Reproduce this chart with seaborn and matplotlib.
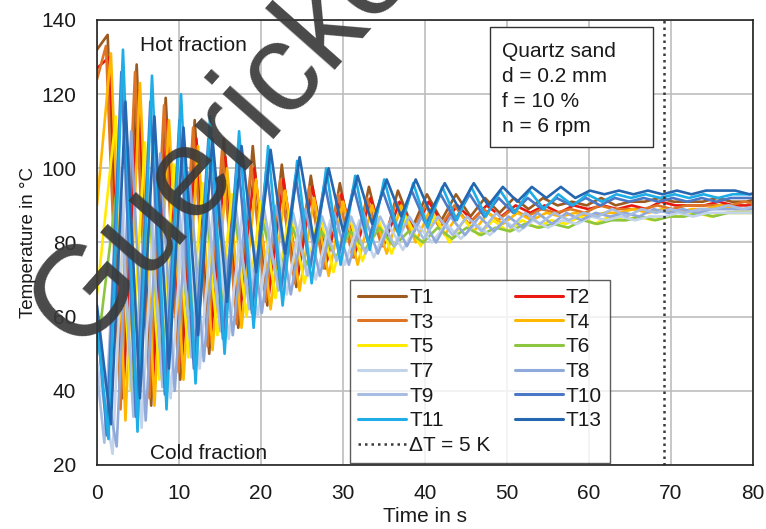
import matplotlib
matplotlib.use("Agg")
import matplotlib.pyplot as plt
import pandas as pd
import seaborn as sns
from matplotlib.lines import Line2D
from matplotlib.patches import Rectangle

# Thermocouple signals in the rotating drum: value at t = 0, time of the
# first turning point, then the successive peak / trough temperatures.
HALF_PERIOD = 1.77  # s between a peak and the following trough

sensors = ["T1", "T2", "T3", "T4", "T5", "T6", "T7", "T8", "T9", "T10", "T11", "T13"]

colors = {
    "T1": "#9C5A1E", "T2": "#E8190E", "T3": "#DD7524", "T4": "#FFB700",
    "T5": "#FFEA00", "T6": "#8CC640", "T7": "#C3D3EA", "T8": "#8FAADA",
    "T9": "#A7BDE2", "T10": "#4B78C6", "T11": "#1EADE6", "T13": "#2466B0",
}

start_temp = {"T1": 132, "T2": 127, "T3": 124, "T4": 90, "T5": 66, "T6": 50,
              "T7": 48, "T8": 55, "T9": 45, "T10": 60, "T11": 58, "T13": 63}

first_turn = {"T1": 1.3, "T2": 1.5, "T3": 1.1, "T4": 1.7, "T5": 2.3, "T6": 2.6,
              "T7": 1.9, "T8": 2.4, "T9": 0.9, "T10": 1.2, "T11": 1.4, "T13": 1.7}

T1 = [136, 38, 128, 36, 119, 43, 113, 50, 108, 57,
      106, 63, 101, 68, 98, 73, 96, 76, 95, 79,
      94, 84, 93, 86, 93, 87, 92, 88, 92, 89,
      92, 90, 91, 90, 92, 90, 91, 91, 92, 91,
      91, 91, 92, 91, 91, 92]
T2 = [130, 42, 121, 41, 113, 47, 108, 54, 103, 60,
      100, 66, 97, 71, 95, 75, 93, 78, 92, 80,
      91, 83, 91, 85, 90, 86, 90, 87, 90, 88,
      90, 88, 90, 89, 90, 89, 90, 89, 91, 90,
      90, 90, 91, 90, 90, 91]
T3 = [133, 35, 126, 38, 117, 45, 111, 52, 105, 58,
      101, 64, 97, 69, 95, 73, 93, 76, 92, 79,
      91, 82, 90, 84, 90, 85, 89, 86, 89, 87,
      89, 88, 89, 88, 90, 89, 89, 89, 90, 89,
      90, 90, 90, 90, 91, 90]
T4 = [131, 32, 123, 36, 113, 43, 106, 51, 100, 57,
      97, 62, 94, 67, 92, 71, 91, 74, 90, 77,
      90, 80, 89, 82, 88, 83, 88, 85, 88, 86,
      88, 87, 88, 87, 88, 88, 89, 88, 89, 88,
      89, 89, 90, 89, 89, 90]
T5 = [114, 40, 107, 43, 101, 49, 96, 55, 93, 60,
      91, 65, 89, 69, 88, 72, 88, 75, 87, 77,
      87, 79, 87, 80, 86, 82, 86, 83, 86, 84,
      86, 85, 87, 85, 87, 86, 87, 86, 87, 87,
      88, 87, 88, 88, 88, 88]
T6 = [98, 38, 97, 45, 94, 52, 90, 59, 87, 65,
      85, 70, 84, 74, 83, 76, 83, 78, 84, 79,
      83, 80, 84, 81, 84, 82, 84, 83, 85, 84,
      85, 84, 86, 85, 86, 86, 87, 86, 87, 87,
      88, 87, 88, 88, 88, 88]
T7 = [23, 106, 30, 100, 38, 96, 46, 92, 54, 90,
      60, 88, 66, 87, 70, 86, 74, 86, 76, 85,
      78, 85, 80, 85, 81, 85, 82, 86, 83, 86,
      84, 86, 85, 87, 86, 87, 86, 87, 87, 88,
      87, 88, 88, 88, 88, 89]
T8 = [25, 110, 32, 104, 40, 99, 48, 95, 55, 92,
      61, 90, 66, 89, 71, 88, 74, 88, 77, 87,
      79, 87, 80, 87, 82, 87, 83, 87, 84, 88,
      85, 88, 86, 88, 87, 88, 87, 89, 88, 89,
      88, 89, 89, 89, 89, 90]
T9 = [26, 103, 33, 100, 41, 96, 49, 93, 56, 91,
      62, 89, 67, 88, 71, 87, 75, 87, 77, 87,
      79, 87, 81, 87, 82, 87, 83, 88, 84, 88,
      85, 88, 86, 88, 87, 89, 87, 89, 88, 89,
      88, 89, 89, 90, 89, 90]
T10 = [28, 126, 33, 118, 39, 113, 46, 108, 54, 104,
       61, 100, 67, 98, 73, 96, 77, 95, 80, 94,
       83, 94, 85, 93, 86, 93, 87, 92, 88, 92,
       89, 92, 90, 92, 90, 92, 91, 92, 91, 92,
       91, 92, 91, 92, 92, 92]
T11 = [27, 132, 29, 125, 35, 120, 42, 114, 50, 110,
       57, 106, 63, 102, 69, 100, 74, 98, 78, 97,
       82, 96, 84, 95, 86, 95, 87, 94, 88, 94,
       89, 93, 90, 93, 91, 93, 92, 93, 92, 93,
       92, 93, 92, 93, 93, 93]
T13 = [31, 118, 38, 114, 46, 111, 55, 108, 64, 106,
       72, 105, 77, 103, 80, 100, 83, 98, 85, 97,
       87, 97, 88, 96, 89, 96, 90, 95, 91, 95,
       92, 95, 92, 94, 93, 94, 93, 94, 93, 94,
       93, 94, 94, 94, 93, 94]

turning_points = {"T1": T1, "T2": T2, "T3": T3, "T4": T4, "T5": T5, "T6": T6,
                  "T7": T7, "T8": T8, "T9": T9, "T10": T10, "T11": T11, "T13": T13}

x_ticks = [0, 10, 20, 30, 40, 50, 60, 70, 80]
y_ticks = [20, 40, 60, 80, 100, 120, 140]
delta_t_time = 69.2  # s, from here on all sensors lie within 5 K
info_lines = ["Quartz sand", "d = 0.2 mm", "f = 10 %", "n = 6 rpm"]

# long-form table for seaborn
rows = []
for name in sensors:
    rows.append((name, 0.0, start_temp[name]))
    for k, v in enumerate(turning_points[name]):
        rows.append((name, first_turn[name] + k * HALF_PERIOD, v))
df = pd.DataFrame(rows, columns=["sensor", "time", "temp"])

sns.set_theme(style="white")
plt.rcParams["font.family"] = ["Liberation Sans", "DejaVu Sans"]
FS = 15
TXT = "#1a1a1a"

fig = plt.figure(figsize=(7.66, 5.29), dpi=100)
ax = fig.add_axes([0.1266, 0.1210, 0.8564, 0.8412])

sns.lineplot(data=df, x="time", y="temp", hue="sensor", hue_order=sensors,
             palette=colors, estimator=None, sort=False, lw=1.9,
             legend=False, ax=ax)

ax.axvline(delta_t_time, color="#3a3a3a", lw=1.8, ls=(0, (1, 1.6)))

ax.set_xlim(0, 80)
ax.set_ylim(20, 140)
ax.set_xticks(x_ticks)
ax.set_yticks(y_ticks)
ax.grid(True, color="#BDBDBD", lw=1.2)
ax.set_axisbelow(True)
for s in ax.spines.values():
    s.set_color("#222222")
    s.set_linewidth(1.2)
ax.tick_params(axis="both", length=0, labelsize=FS, labelcolor=TXT)
ax.tick_params(axis="x", pad=14)
ax.tick_params(axis="y", pad=15)
ax.set_xlabel("Time in s", fontsize=FS, color=TXT)
ax.set_ylabel("Temperature in °C", fontsize=13.5, color=TXT)
ax.xaxis.set_label_coords(0.5, -0.094)
ax.yaxis.set_label_coords(-0.092, 0.5)

ax.text(5.24, 131.7, "Hot fraction", fontsize=FS, color=TXT, va="baseline")
ax.text(6.46, 21.6, "Cold fraction", fontsize=FS, color=TXT, va="baseline")

# parameter box
ax.add_patch(Rectangle((0.599, 0.7146), 0.2485, 0.2694, transform=ax.transAxes,
                       fc="white", ec="#333333", lw=1.0, zorder=5))
for line, yb in zip(info_lines, [0.9175, 0.8613, 0.8038, 0.749]):
    ax.text(0.6174, yb, line, transform=ax.transAxes, fontsize=FS, color=TXT,
            va="baseline", zorder=6)

# legend laid out row by row in two columns
handles = {n: Line2D([], [], color=colors[n], lw=2.2) for n in sensors}
dotted = Line2D([], [], color="#3a3a3a", lw=1.8, ls=(0, (1, 1.6)))
order = ["T1", "T3", "T5", "T7", "T9", "T11", None, "T2", "T4", "T6", "T8", "T10", "T13"]
h = [handles[n] if n else dotted for n in order]
l = [n if n else "ΔT = 5 K" for n in order]
leg = ax.legend(h, l, ncol=2, loc="lower left", bbox_to_anchor=(0.3857, 0.004),
                borderaxespad=0, fontsize=FS, frameon=True, fancybox=False,
                handlelength=2.3, handletextpad=0.15, columnspacing=1.15,
                labelspacing=0.27, borderpad=0.4)
leg.get_frame().set_edgecolor("#333333")
leg.get_frame().set_linewidth(1.0)
leg.set_zorder(7)
for t in leg.get_texts():
    t.set_color(TXT)

# institute watermark across the plot
fig.text(0.1031, 0.3346, "Guericke", rotation=48.5, rotation_mode="anchor",
         ha="left", va="baseline", fontsize=92, color="#3a3a3a", alpha=0.92,
         zorder=20)

fig.savefig("out.png", dpi=100)
